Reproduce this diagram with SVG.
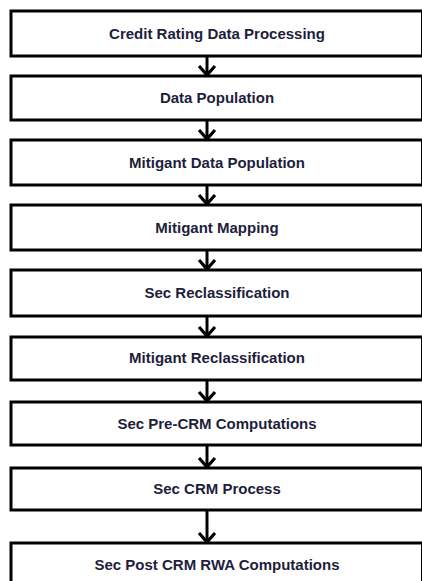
<svg xmlns="http://www.w3.org/2000/svg" width="422" height="581" viewBox="0 0 422 581">
<style>
.box{fill:#ffffff;stroke:#000000;stroke-width:3}
.lbl{font-family:"Liberation Sans",Arial,sans-serif;font-weight:bold;font-size:15px;fill:#1e1e3c;text-anchor:middle}
.con{stroke:#000000;stroke-width:3;fill:none}
.head{stroke:#000000;stroke-width:3.2;fill:none;stroke-linejoin:miter}
</style>
<rect width="422" height="581" fill="#ffffff"/>
<g id="connectors">
<line class="con" x1="207" y1="56" x2="207" y2="75"/><polyline class="head" points="199,66 207,75 215,66"/>
<line class="con" x1="207" y1="120" x2="207" y2="139"/><polyline class="head" points="199,130 207,139 215,130"/>
<line class="con" x1="207" y1="185" x2="207" y2="204"/><polyline class="head" points="199,195 207,204 215,195"/>
<line class="con" x1="207" y1="250" x2="207" y2="269"/><polyline class="head" points="199,260 207,269 215,260"/>
<line class="con" x1="207" y1="316" x2="207" y2="336"/><polyline class="head" points="199,327 207,336 215,327"/>
<line class="con" x1="207" y1="380" x2="207" y2="401"/><polyline class="head" points="199,392 207,401 215,392"/>
<line class="con" x1="207" y1="445" x2="207" y2="467"/><polyline class="head" points="199,458 207,467 215,458"/>
<line class="con" x1="207" y1="510" x2="207" y2="542"/><polyline class="head" points="199,533 207,542 215,533"/>
</g>
<g id="n1"><rect class="box" x="11" y="11" width="411.5" height="45"/><text class="lbl" x="217" y="39">Credit Rating Data Processing</text></g>
<g id="n2"><rect class="box" x="11" y="76" width="411.5" height="44"/><text class="lbl" x="217" y="103">Data Population</text></g>
<g id="n3"><rect class="box" x="11" y="140" width="411.5" height="45"/><text class="lbl" x="217" y="168">Mitigant Data Population</text></g>
<g id="n4"><rect class="box" x="11" y="205" width="411.5" height="45"/><text class="lbl" x="217" y="233">Mitigant Mapping</text></g>
<g id="n5"><rect class="box" x="11" y="270" width="411.5" height="46"/><text class="lbl" x="217" y="298">Sec Reclassification</text></g>
<g id="n6"><rect class="box" x="11" y="337" width="411.5" height="43"/><text class="lbl" x="217" y="363">Mitigant Reclassification</text></g>
<g id="n7"><rect class="box" x="11" y="402" width="411.5" height="43"/><text class="lbl" x="217" y="429">Sec Pre-CRM Computations</text></g>
<g id="n8"><rect class="box" x="11" y="468" width="411.5" height="42"/><text class="lbl" x="217" y="494">Sec CRM Process</text></g>
<g id="n9"><rect class="box" x="11" y="543" width="411.5" height="44"/><text class="lbl" x="217" y="570">Sec Post CRM RWA Computations</text></g>
</svg>
